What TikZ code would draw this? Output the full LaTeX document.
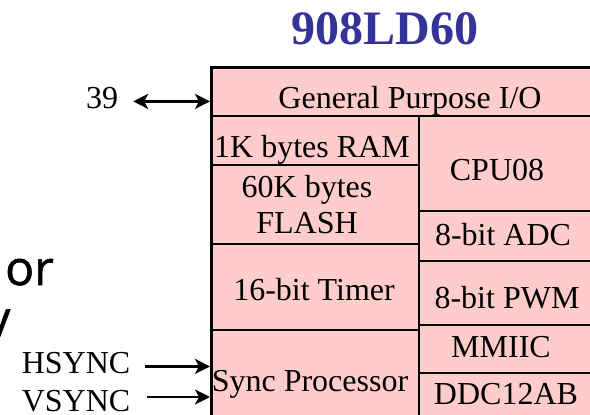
\documentclass[tikz,border=0pt]{standalone}
\usepackage{fontspec}
\setmainfont{Liberation Serif}
\newfontfamily\slidesans[FakeBold=1.2]{Open Sans}
\usetikzlibrary{arrows.meta}
\definecolor{chippink}{RGB}{255,204,204}
\definecolor{titleblue}{RGB}{51,51,153}

\begin{document}
\begin{tikzpicture}[x=1pt,y=-1pt,>={Stealth[length=15pt,width=15pt,inset=4pt]},
  lbl/.style={font=\fontsize{32}{36}\selectfont,inner sep=0pt},
  cell/.style={lbl,anchor=base},
  pin/.style={lbl,anchor=base,inner xsep=15pt,text depth=8pt},
  wire/.style={line width=2.5pt}]
  % page: 590 x 415, y grows downwards
  \useasboundingbox (0,0) rectangle (590,415);
  \node[font=\bfseries\fontsize{48}{54}\selectfont,text=titleblue,anchor=base] (title) at (385,45) {908LD60};
  % leftovers of the slide text behind
  \node[font=\slidesans\fontsize{48}{50}\selectfont,anchor=base west,inner sep=0pt] (or) at (5,285) {or};
  \node[font=\slidesans\fontsize{48}{50}\selectfont,anchor=base west,inner sep=0pt] (ytail) at (-14,335) {y};
  % chip outline, runs past the right and bottom edge
  \node[draw,wire,fill=chippink,minimum width=400pt,minimum height=364pt,inner sep=0pt,anchor=north west] (chip) at (210,66) {};
  % inner walls
  \draw[wire] (210,116) -- (610,116);
  \draw[wire] (419,116) -- (419,430);
  \foreach \y in {165,244,330} \draw[wire] (210,\y) -- (419,\y);
  \foreach \y in {211,261,325,373} \draw[wire] (419,\y) -- (610,\y);
  % blocks
  \node[cell] (gpio) at (410,108) {General Purpose I/O};
  \node[cell] (ram) at (312,157) {1K bytes RAM};
  \node[lbl,align=center] (flash) at (307,205) {60K bytes\\FLASH};
  \node[cell] (timer) at (314,300) {16-bit Timer};
  \node[cell] (sync) at (310,391) {Sync Processor};
  \node[cell] (cpu) at (497,180) {CPU08};
  \node[cell] (adc) at (503,245) {8-bit ADC};
  \node[cell] (pwm) at (507,308) {8-bit PWM};
  \node[cell] (iic) at (501,357) {MMIIC};
  \node[cell] (ddc) at (506,404) {DDC12AB};
  % pins
  \node[pin] (p39) at (102,108) {39};
  \node[pin] (hsync) at (76,373) {HSYNC};
  \node[lbl,anchor=base] (vsync) at (76,411) {VSYNC};
  \coordinate (vin) at (147,397);
  \draw[wire,<->] (p39.east) -- (p39.east -| chip.west);
  \draw[wire,->] (hsync.east) -- (hsync.east -| chip.west);
  \draw[wire,->] (vin) -- (vin -| chip.west);
\end{tikzpicture}
\end{document}
